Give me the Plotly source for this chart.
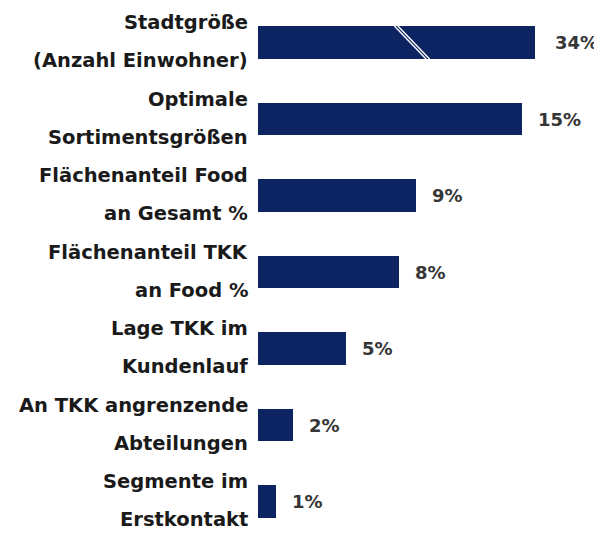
import plotly.graph_objects as go

line1 = ["Stadtgröße", "Optimale", "Flächenanteil Food", "Flächenanteil TKK",
         "Lage TKK im", "An TKK angrenzende", "Segmente im"]
line2 = ["(Anzahl Einwohner)", "Sortimentsgrößen", "an Gesamt %", "an Food %",
         "Kundenlauf", "Abteilungen", "Erstkontakt"]
values = [34, 15, 9, 8, 5, 2, 1]
value_labels = ["34%", "15%", "9%", "8%", "5%", "2%", "1%"]

# the 34% bar is drawn with an axis break, shortened to this length
break_cap = 15.75
break_pos = 7.75

BAR = "#0c2461"
FONT = "DejaVu Sans"

idx = list(range(len(values)))
shown = [min(v, break_cap) for v in values]

fig = go.Figure()
fig.add_trace(go.Bar(
    x=shown, y=idx, orientation="h", width=0.43,
    marker=dict(color=BAR, line=dict(width=0)),
    hoverinfo="skip", showlegend=False,
))

ann = []
for i in idx:
    ann.append(dict(x=0, xref="paper", y=i, yref="y", text=f"<b>{line1[i]}</b>",
                    xanchor="right", yanchor="middle", xshift=-8, yshift=20,
                    showarrow=False, font=dict(family=FONT, size=19.5, color="#1a1a1a")))
    ann.append(dict(x=0, xref="paper", y=i, yref="y", text=f"<b>{line2[i]}</b>",
                    xanchor="right", yanchor="middle", xshift=-8, yshift=-18,
                    showarrow=False, font=dict(family=FONT, size=19.5, color="#1a1a1a")))
    ann.append(dict(x=shown[i], xref="x", y=i, yref="y", text=f"<b>{value_labels[i]}</b>",
                    xanchor="left", yanchor="middle", xshift=18 if values[i] > break_cap else 14,
                    showarrow=False, font=dict(family=FONT, size=18, color="#363636")))

shapes = []
for off in (0.0, 0.2):
    shapes.append(dict(type="line", xref="x", yref="y",
                       x0=break_pos + off, y0=-0.215, x1=break_pos + 1.8 + off, y1=0.215,
                       line=dict(color="white", width=1.4)))

fig.update_layout(
    width=594, height=526,
    margin=dict(l=250, r=0, t=0, b=0),
    paper_bgcolor="white", plot_bgcolor="white",
    xaxis=dict(range=[0, 19.55], visible=False, fixedrange=True),
    yaxis=dict(range=[6.4248, -0.451], visible=False, fixedrange=True),
    annotations=ann, shapes=shapes,
    bargap=0,
)

fig.write_html("out.html")
